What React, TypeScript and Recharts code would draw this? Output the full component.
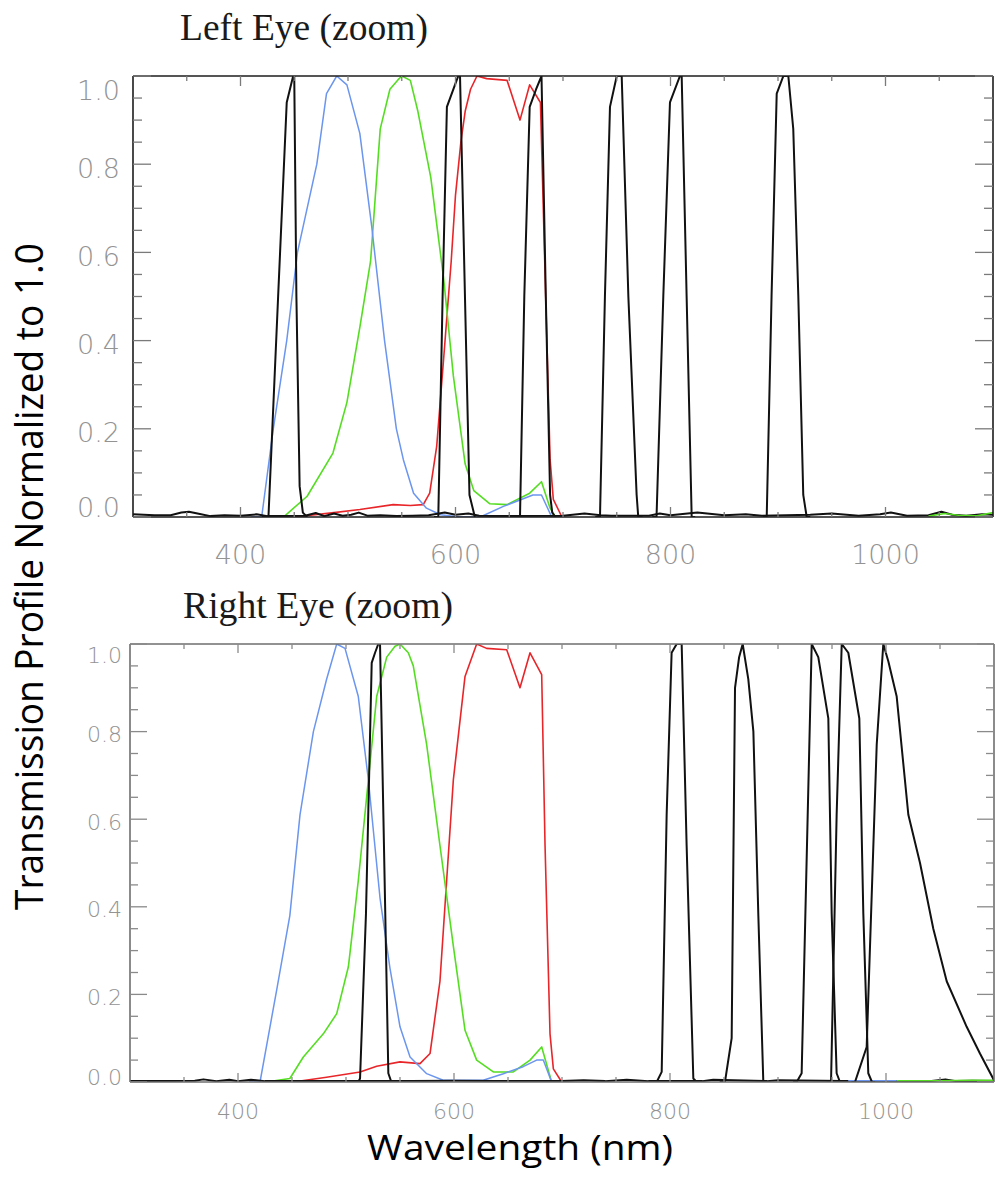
import React from 'react';
import { LineChart, Line, XAxis, YAxis } from 'recharts';

// ---------- axis ticks ----------
const X_TICKS = [350, 400, 450, 500, 550, 600, 650, 700, 750, 800, 850, 900, 950, 1000, 1050];
const X_LABELED = [400, 600, 800, 1000];
const Y_TICKS = [0, 0.05, 0.1, 0.15, 0.2, 0.25, 0.3, 0.35, 0.4, 0.45, 0.5, 0.55, 0.6, 0.65, 0.7, 0.75, 0.8, 0.85, 0.9, 0.95, 1.0];
const Y_LABELED = [0, 0.2, 0.4, 0.6, 0.8, 1.0];

// ---------- Left eye (top panel) ----------
const leftBlueNm = [410, 419.7, 430.5, 443, 453, 471, 480, 489.5, 499, 511, 522, 534, 545, 551.5, 561, 573, 586, 604, 623, 644.5, 672, 680, 689.5, 700];
const leftBlueT = [0, 0, 0.2, 0.4, 0.6, 0.8, 0.96, 1.0, 0.98, 0.87, 0.66, 0.4, 0.2, 0.13, 0.054, 0.02, 0.005, 0, 0, 0.024, 0.05, 0.05, 0, 0];

const leftGreenNm = [430, 440, 462, 486, 499, 511, 521, 530, 539, 546, 550, 558, 565, 577, 589, 598, 609, 617, 632, 648, 669, 680, 688, 693];
const leftGreenT = [0, 0, 0.047, 0.145, 0.26, 0.43, 0.58, 0.88, 0.97, 0.99, 1.0, 0.99, 0.92, 0.77, 0.54, 0.32, 0.12, 0.06, 0.03, 0.028, 0.054, 0.08, 0.02, 0];
const leftGreenTailNm = [1040, 1055, 1068, 1085, 1100];
const leftGreenTailT = [0.002, 0.008, 0.004, 0.003, 0.01];

const leftRedNm = [450, 487, 511, 542, 558, 570, 576, 582.5, 589, 596, 600, 605, 609, 614, 620, 629, 648, 660, 669, 679, 683, 688, 691, 699];
const leftRedT = [0, 0.01, 0.017, 0.028, 0.026, 0.028, 0.054, 0.16, 0.36, 0.58, 0.73, 0.85, 0.92, 0.97, 1.0, 0.994, 0.99, 0.9, 0.98, 0.94, 0.58, 0.13, 0.04, 0];

const leftBaseNm = [300, 320, 335, 345, 352, 360, 372, 385, 400, 415, 425, 460, 470, 478, 487, 495, 503, 510, 518, 530, 545, 560, 575, 590, 600, 612, 622, 640, 700, 720, 735, 745, 780, 790, 800, 825, 850, 870, 885, 930, 950, 975, 995, 1005, 1020, 1040, 1052, 1062, 1075, 1090, 1100];
const leftBaseT = [0.006, 0.004, 0.004, 0.01, 0.012, 0.008, 0.002, 0.004, 0.003, 0.006, 0.002, 0.003, 0.009, 0.002, 0.008, 0.003, 0.005, 0.01, 0.003, 0.004, 0.002, 0.003, 0.004, 0.01, 0.005, 0.008, 0.003, 0.002, 0.003, 0.008, 0.004, 0.003, 0.003, 0.008, 0.004, 0.01, 0.004, 0.006, 0.003, 0.005, 0.008, 0.003, 0.006, 0.01, 0.003, 0.004, 0.012, 0.005, 0.003, 0.006, 0.005];

const leftK1Nm = [420, 426, 435, 443, 447, 449, 450, 452, 455, 458, 462];
const leftK1T = [0, 0, 0.5, 0.94, 0.98, 1.0, 1.0, 0.5, 0.07, 0.01, 0];
const leftK2Nm = [580, 584, 588, 592, 599.5, 602.6, 604.2, 608.8, 613, 618];
const leftK2T = [0, 0, 0.5, 0.93, 0.98, 1.0, 1.0, 0.5, 0.05, 0];
const leftK3Nm = [655, 660, 664, 669, 675, 680, 684, 688, 690, 693];
const leftK3T = [0, 0, 0.5, 0.93, 0.97, 1.0, 0.5, 0.05, 0.01, 0];
const leftK4Nm = [730, 734.4, 739, 743.7, 750, 754.6, 760.8, 768.5, 770, 774];
const leftK4T = [0, 0, 0.5, 0.93, 1.0, 1.0, 0.5, 0.05, 0, 0];
const leftK5Nm = [783, 787, 793.3, 799.5, 808.8, 810.4, 815, 819.7, 823];
const leftK5T = [0, 0, 0.5, 0.94, 1.0, 1.0, 0.5, 0, 0];
const leftK6Nm = [886, 889.5, 894, 898.8, 905, 909.6, 914.2, 918.9, 923.5, 926.7, 930];
const leftK6T = [0, 0, 0.5, 0.96, 1.0, 1.0, 0.88, 0.5, 0.05, 0, 0];

// ---------- Right eye (bottom panel) ----------
const rightBlueNm = [410, 420.4, 435.8, 448, 457.4, 469.8, 482.1, 491.4, 499.1, 511.4, 520.7, 531.5, 540.7, 550, 559.3, 574.7, 590, 627, 645.7, 664, 676.5, 682.7, 690.4, 700];
const rightBlueT = [0, 0, 0.21, 0.38, 0.61, 0.8, 0.92, 1.0, 0.99, 0.88, 0.69, 0.42, 0.26, 0.126, 0.057, 0.019, 0.004, 0.004, 0.019, 0.035, 0.05, 0.05, 0, 0];
const rightBlueTailNm = [965, 985, 1010];
const rightBlueTailT = [0.003, 0.003, 0.003];

const rightGreenNm = [426, 448, 460.5, 479, 491.4, 502.2, 511.4, 520.7, 528.4, 537.7, 545.4, 550, 557.7, 562.3, 574.7, 587, 599.4, 610.2, 621, 636.4, 654.9, 670.4, 681.2, 690.4, 695];
const rightGreenT = [0, 0.008, 0.057, 0.11, 0.156, 0.263, 0.46, 0.69, 0.88, 0.97, 0.995, 1.0, 0.98, 0.95, 0.77, 0.54, 0.31, 0.118, 0.05, 0.023, 0.023, 0.05, 0.08, 0, 0];
const rightGreenTailNm = [1010, 1050, 1080, 1100];
const rightGreenTailT = [0.003, 0.003, 0.004, 0.004];

const rightRedNm = [451, 482, 513, 528.4, 550, 568.5, 577.8, 587, 593.2, 599.4, 610.2, 621, 630.2, 648.8, 661.1, 670.4, 681.2, 684.3, 688.9, 692, 699.7];
const rightRedT = [0, 0.011, 0.023, 0.036, 0.046, 0.042, 0.065, 0.23, 0.46, 0.69, 0.926, 1.0, 0.99, 0.987, 0.9, 0.98, 0.93, 0.54, 0.11, 0.03, 0];

const rightBaseNm = [300, 330, 360, 368, 380, 392, 400, 412, 425, 480, 560, 600, 640, 700, 720, 740, 760, 780, 830, 840, 890, 900, 960, 1000, 1040, 1055, 1065, 1080, 1100];
const rightBaseT = [0.002, 0.002, 0.003, 0.006, 0.002, 0.005, 0.002, 0.005, 0.002, 0.002, 0.002, 0.003, 0.002, 0.002, 0.004, 0.002, 0.005, 0.002, 0.002, 0.005, 0.002, 0.004, 0.002, 0.002, 0.002, 0.006, 0.002, 0.003, 0.002];

const rightK1Nm = [508, 511.4, 513, 518.5, 523.8, 526.9, 529.9, 531.5, 534.6, 539.2, 542, 546];
const rightK1T = [0, 0, 0.008, 0.385, 0.957, 0.98, 1.0, 1.0, 0.61, 0.02, 0, 0];
const rightK2Nm = [784, 787.7, 792.3, 796.9, 801.5, 806.2, 810.8, 815.4, 821.6, 824.7, 828];
const rightK2T = [0, 0, 0.023, 0.61, 0.98, 1.0, 1.0, 0.54, 0.008, 0, 0];
const rightK3Nm = [846, 850.9, 857.1, 860.2, 864, 867.3, 872.5, 877.2, 881.8, 886.4, 890];
const rightK3T = [0, 0, 0.1, 0.9, 0.97, 1.0, 0.92, 0.8, 0.38, 0, 0];
const rightK4Nm = [914, 917.3, 921.9, 931.2, 937.3, 946.6, 949.7, 954.3, 957.4, 961];
const rightK4T = [0, 0, 0.02, 1.0, 0.97, 0.83, 0.385, 0.02, 0, 0];
const rightK5Nm = [945, 949.1, 954.3, 959, 965.1, 975.3, 979, 983.6, 987, 990];
const rightK5T = [0, 0, 0.61, 1.0, 0.98, 0.83, 0.385, 0.02, 0, 0];
const rightK6Nm = [968, 971.3, 982.1, 991.4, 997.5, 1002.2, 1009.9, 1020.7, 1031.5, 1043.8, 1056.2, 1074.7, 1087, 1100];
const rightK6T = [0, 0, 0.08, 0.77, 1.0, 0.96, 0.88, 0.61, 0.5, 0.35, 0.23, 0.126, 0.065, 0.004];

// ---------- helpers ----------
type Pt = { nm: number; t: number };
const toPts = (nm: number[], t: number[]): Pt[] => nm.map((x, i) => ({ nm: x, t: t[i] }));
const isIn = (arr: number[], v: number) => arr.some((a) => Math.abs(a - v) < 1e-6);

const BLUE = '#6b95ee';
const GREEN = '#55dd22';
const RED = '#e8262a';
const BLACK = '#111111';
const LABEL = '#939393';
const TICKFONT = "'DejaVu Sans', 'Liberation Sans', sans-serif";

type Series = { key: string; pts: Pt[]; color: string; width: number };

const blk = (key: string, nm: number[], t: number[]): Series => ({ key, pts: toPts(nm, t), color: BLACK, width: 2 });

const leftSeries: Series[] = [
  { key: 'red', pts: toPts(leftRedNm, leftRedT), color: RED, width: 1.6 },
  { key: 'green', pts: toPts(leftGreenNm, leftGreenT), color: GREEN, width: 1.6 },
  { key: 'blue', pts: toPts(leftBlueNm, leftBlueT), color: BLUE, width: 1.5 },
  blk('base', leftBaseNm, leftBaseT),
  { key: 'greenTail', pts: toPts(leftGreenTailNm, leftGreenTailT), color: GREEN, width: 1.6 },
  blk('k1', leftK1Nm, leftK1T),
  blk('k2', leftK2Nm, leftK2T),
  blk('k3', leftK3Nm, leftK3T),
  blk('k4', leftK4Nm, leftK4T),
  blk('k5', leftK5Nm, leftK5T),
  blk('k6', leftK6Nm, leftK6T),
];

const rightSeries: Series[] = [
  { key: 'red', pts: toPts(rightRedNm, rightRedT), color: RED, width: 1.6 },
  { key: 'green', pts: toPts(rightGreenNm, rightGreenT), color: GREEN, width: 1.6 },
  { key: 'blue', pts: toPts(rightBlueNm, rightBlueT), color: BLUE, width: 1.5 },
  blk('base', rightBaseNm, rightBaseT),
  { key: 'blueTail', pts: toPts(rightBlueTailNm, rightBlueTailT), color: BLUE, width: 1.5 },
  { key: 'greenTail', pts: toPts(rightGreenTailNm, rightGreenTailT), color: GREEN, width: 1.6 },
  blk('k1', rightK1Nm, rightK1T),
  blk('k2', rightK2Nm, rightK2T),
  blk('k3', rightK3Nm, rightK3T),
  blk('k4', rightK4Nm, rightK4T),
  blk('k5', rightK5Nm, rightK5T),
  blk('k6', rightK6Nm, rightK6T),
];

type Cfg = {
  top: number;
  height: number;
  plot: { top: number; right: number; bottom: number; left: number };
  frame: string;
  tick: string;
  font: number;
  xLabelDy: number;
  yGap: number;
  yDyTop: number;
  yDyBottom: number;
  yDyMid: number;
  majorY: number;
  minorY: number;
  majorX: number;
  minorX: number;
};

// plot = distances from chart edges to the plot frame
const topCfg: Cfg = {
  top: 0,
  height: 600,
  plot: { top: 76, right: 2, bottom: 83, left: 133 },
  frame: '#1c1c1c',
  tick: '#7a7a7a',
  font: 27,
  xLabelDy: 37,
  yGap: 13,
  yDyTop: 14,
  yDyBottom: -10,
  yDyMid: 4,
  majorY: 18,
  minorY: 9,
  majorX: 10,
  minorX: 5,
};

const bottomCfg: Cfg = {
  top: 560,
  height: 622,
  plot: { top: 84, right: 1, bottom: 100, left: 130 },
  frame: '#6e6e6e',
  tick: '#8a8a8a',
  font: 22,
  xLabelDy: 29,
  yGap: 8,
  yDyTop: 11,
  yDyBottom: -5,
  yDyMid: 3,
  majorY: 17,
  minorY: 8,
  majorX: 9,
  minorX: 5,
};

const AX = 1; // axis band thickness

const Panel = ({ cfg, series }: { cfg: Cfg; series: Series[] }) => {
  const xTick = (dir: number, withLabel: boolean) => (p: any) => {
    const v = p.payload.value;
    const major = isIn(X_LABELED, v);
    const len = major ? cfg.majorX : cfg.minorX;
    return (
      <g>
        <line x1={p.x} x2={p.x} y1={p.y} y2={p.y + dir * len} stroke={cfg.tick} strokeWidth={1.3} />
        {withLabel && major ? (
          <text x={p.x} y={p.y + cfg.xLabelDy} textAnchor="middle" dominantBaseline="central" fontFamily={TICKFONT} fontWeight={300} fontSize={cfg.font} fill={LABEL}>
            {String(v)}
          </text>
        ) : null}
      </g>
    );
  };
  const yTick = (dir: number, withLabel: boolean) => (p: any) => {
    const v = p.payload.value;
    const major = isIn(Y_LABELED, v);
    const len = major ? cfg.majorY : cfg.minorY;
    const dy = Math.abs(v - 1) < 1e-6 ? cfg.yDyTop : Math.abs(v) < 1e-6 ? cfg.yDyBottom : cfg.yDyMid;
    return (
      <g>
        <line x1={p.x} x2={p.x + dir * len} y1={p.y} y2={p.y} stroke={cfg.tick} strokeWidth={1.3} />
        {withLabel && major ? (
          <text x={p.x - cfg.yGap} y={p.y + dy} textAnchor="end" dominantBaseline="central" fontFamily={TICKFONT} fontWeight={300} fontSize={cfg.font} fill={LABEL}>
            {Number(v).toFixed(1)}
          </text>
        ) : null}
      </g>
    );
  };
  const axisLine = { stroke: cfg.frame, strokeWidth: 1.6 };
  const margin = {
    top: cfg.plot.top - AX,
    right: cfg.plot.right - AX,
    bottom: cfg.plot.bottom - AX,
    left: cfg.plot.left - AX,
  };
  return (
    <div style={{ position: 'absolute', left: 0, top: cfg.top }}>
      <LineChart width={995} height={cfg.height} margin={margin}>
        <XAxis xAxisId="b" orientation="bottom" type="number" dataKey="nm" domain={[300, 1100]} allowDataOverflow ticks={X_TICKS} interval={0} height={AX} tickSize={0} tickMargin={0} tickLine={false} axisLine={axisLine} tick={xTick(-1, true)} />
        <XAxis xAxisId="t" orientation="top" type="number" dataKey="nm" domain={[300, 1100]} allowDataOverflow ticks={X_TICKS} interval={0} height={AX} tickSize={0} tickMargin={0} tickLine={false} axisLine={axisLine} tick={xTick(1, false)} />
        <YAxis yAxisId="l" orientation="left" type="number" domain={[0, 1]} allowDataOverflow ticks={Y_TICKS} interval={0} width={AX} tickSize={0} tickMargin={0} tickLine={false} axisLine={axisLine} tick={yTick(1, true)} />
        <YAxis yAxisId="r" orientation="right" type="number" domain={[0, 1]} allowDataOverflow ticks={Y_TICKS} interval={0} width={AX} tickSize={0} tickMargin={0} tickLine={false} axisLine={axisLine} tick={yTick(-1, false)} />
        {series.map((s) => (
          <Line
            key={s.key}
            xAxisId="b"
            yAxisId="l"
            data={s.pts}
            dataKey="t"
            type="linear"
            stroke={s.color}
            strokeWidth={s.width}
            dot={false}
            activeDot={false}
            isAnimationActive={false}
            strokeLinejoin="round"
          />
        ))}
      </LineChart>
    </div>
  );
};

export default function App() {
  return (
    <div style={{ position: 'absolute', left: 0, top: 0, width: 995, height: 1182, background: '#ffffff', overflow: 'hidden' }}>
      <Panel cfg={topCfg} series={leftSeries} />
      <Panel cfg={bottomCfg} series={rightSeries} />
      <svg width={995} height={1182} style={{ position: 'absolute', left: 0, top: 0, pointerEvents: 'none' }}>
        <text x={180} y={40} fontFamily="'Liberation Serif', 'Times New Roman', serif" fontSize={38} fill="#1a1a1a" textLength={248} lengthAdjust="spacingAndGlyphs">
          Left Eye (zoom)
        </text>
        <text x={183} y={618} fontFamily="'Liberation Serif', 'Times New Roman', serif" fontSize={38} fill="#1a1a1a" textLength={270} lengthAdjust="spacingAndGlyphs">
          Right Eye (zoom)
        </text>
        <text transform="translate(43, 576.5) rotate(-90)" x={0} y={0} textAnchor="middle" fontFamily="'Open Sans', 'Liberation Sans', sans-serif" fontSize={38} fill="#000000" textLength={667} lengthAdjust="spacingAndGlyphs">
          Transmission Profile Normalized to 1.0
        </text>
        <text x={520} y={1160} textAnchor="middle" fontFamily="'Open Sans', 'Liberation Sans', sans-serif" fontSize={35} fill="#000000" textLength={306} lengthAdjust="spacingAndGlyphs">
          Wavelength (nm)
        </text>
      </svg>
    </div>
  );
}
